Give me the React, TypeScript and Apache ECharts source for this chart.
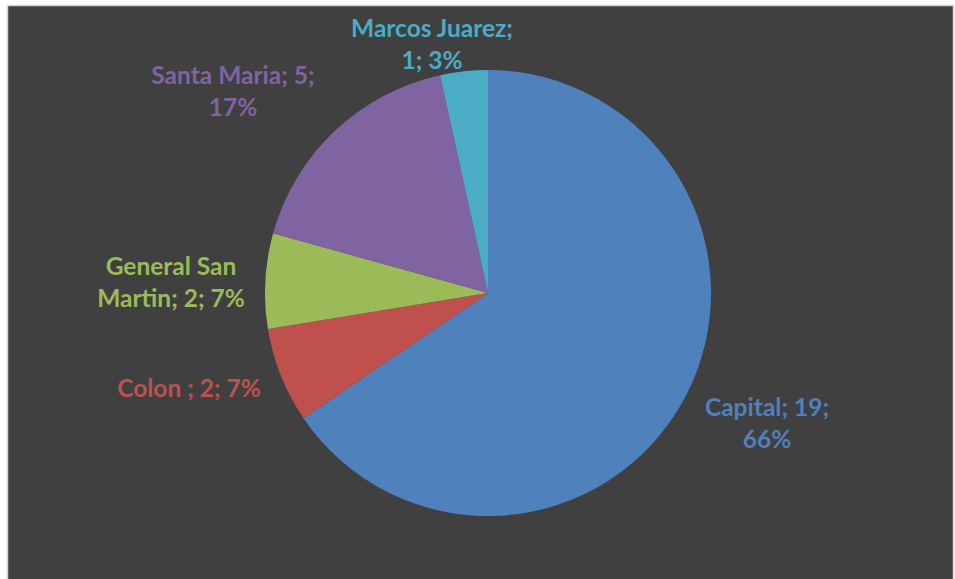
import React, { useEffect, useRef } from "react";
import * as echarts from "echarts";

const categories = ["Capital", "Colon ", "General San Martin", "Santa Maria", "Marcos Juarez"];
const values = [19, 2, 2, 5, 1];
const colors = ["#4f81bd", "#c0504d", "#9bbb59", "#8064a2", "#4bacc6"];
// where each label's text wraps: 0 = after name, 1 = after value, 2 = no break, 3 = after "General San"
const labelBreaks = [1, 2, 3, 1, 0];
const labelPos: [number, number][] = [
  [767, 422],
  [189, 387],
  [171, 281],
  [233, 90],
  [432, 43],
];

export default function App() {
  const ref = useRef<HTMLDivElement>(null);
  useEffect(() => {
    if (!ref.current) return;
    const chart = echarts.init(ref.current, null, { renderer: "svg" });
    chart.setOption({
      animation: false,
      backgroundColor: "#ffffff",
      graphic: [
        {
          type: "rect",
          z: -10,
          shape: { x: 7.5, y: 5.5, width: 946, height: 590 },
          style: { fill: "#404040", stroke: "#d4d4d4", lineWidth: 1.5 },
        },
      ],
      series: [
        {
          type: "pie",
          center: [488, 293],
          radius: 223,
          startAngle: 90,
          clockwise: true,
          percentPrecision: 0,
          data: categories.map((name, i) => ({
            name,
            value: values[i],
            itemStyle: { color: colors[i] },
            label: { color: colors[i] },
          })),
          itemStyle: { borderWidth: 0 },
          labelLine: { show: false },
          label: {
            show: true,
            position: "outside",
            fontFamily: "Lato",
            fontWeight: "bold",
            fontSize: 24.5,
            lineHeight: 32,
            align: "center",
            formatter: (p: any) => {
              const i = p.dataIndex;
              const b = labelBreaks[i];
              const pct = Math.round(p.percent) + "%";
              if (b === 0) return `${p.name};\n${p.value}; ${pct}`;
              if (b === 1) return `${p.name}; ${p.value};\n${pct}`;
              if (b === 3) {
                const parts = p.name.split(" ");
                return `${parts.slice(0, 2).join(" ")}\n${parts.slice(2).join(" ")}; ${p.value}; ${pct}`;
              }
              return `${p.name}; ${p.value}; ${pct}`;
            },
          },
          labelLayout: (params: any) => {
            const pos = labelPos[params.dataIndex];
            return { x: pos[0], y: pos[1], align: "center", verticalAlign: "middle" };
          },
        },
      ],
    });
    return () => chart.dispose();
  }, []);
  return (
    <div
      ref={ref}
      style={{ position: "fixed", left: 0, top: 0, width: 955, height: 579 }}
    />
  );
}
